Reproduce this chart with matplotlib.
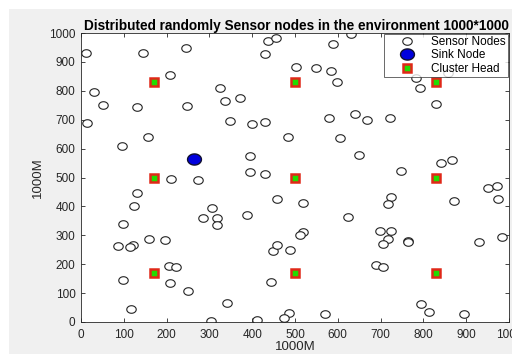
import matplotlib
matplotlib.use("Agg")
import matplotlib.pyplot as plt
from matplotlib.patches import Rectangle
from matplotlib.path import Path
import numpy as np

# ---- data ----
sensor_x = [11, 144, 245, 436, 456, 431, 208, 31, 51, 132, 247, 324, 336, 371, 13, 347, 400, 431,
            156, 95, 396, 396, 431, 484, 210, 273, 132, 123, 307, 286, 318, 318, 389, 457, 97, 86,
            121, 115, 158, 197, 206, 222, 97, 207, 250, 116, 341, 303, 411, 449, 459, 444, 632, 589,
            502, 549, 583, 597, 782, 793, 830, 857, 580, 640, 669, 723, 604, 649, 841, 866, 748, 950,
            973, 974, 519, 725, 718, 871, 623, 699, 725, 718, 706, 763, 763, 519, 512, 488, 931, 984,
            690, 706, 794, 814, 896, 570, 485, 474]
sensor_y = [932, 932, 949, 972, 984, 926, 856, 796, 751, 744, 747, 810, 765, 776, 690, 695, 685, 692,
            640, 609, 576, 519, 513, 640, 495, 492, 446, 402, 394, 360, 360, 334, 371, 425, 340, 264,
            266, 258, 287, 284, 195, 190, 147, 134, 106, 44, 67, 4, 8, 245, 266, 140, 998, 963,
            884, 878, 869, 832, 843, 809, 755, 862, 707, 718, 698, 705, 638, 578, 549, 559, 524, 464,
            469, 426, 412, 432, 409, 417, 362, 316, 316, 287, 269, 279, 277, 311, 301, 250, 277, 295,
            197, 191, 61, 36, 27, 27, 30, 14]
sink_x = [264]
sink_y = [565]
ch_x = [170, 170, 170, 500, 500, 500, 830, 830, 830]
ch_y = [170, 500, 830, 170, 500, 830, 170, 500, 830]
xticks = [0, 100, 200, 300, 400, 500, 600, 700, 800, 900, 1000]
yticks = [0, 100, 200, 300, 400, 500, 600, 700, 800, 900, 1000]

plt.rcParams['font.family'] = ['Liberation Sans', 'DejaVu Sans']

fig = plt.figure(figsize=(5.12, 3.54), dpi=100, facecolor='white')
fig.patches.append(Rectangle((9 / 512, 0), 1, (354 - 9) / 354, transform=fig.transFigure,
                             facecolor='#f0f0f0', edgecolor='none', zorder=-10))
ax = fig.add_axes([81 / 512, 32 / 354, 428 / 512, 289 / 354])
ax.set_facecolor('white')

# slightly wide ellipse marker (screenshot is horizontally stretched)
t = np.linspace(0, 2 * np.pi, 60)
ell = Path(np.column_stack([np.cos(t), 0.8 * np.sin(t)]), closed=True)

ax.plot(sensor_x, sensor_y, linestyle='none', marker=ell, markersize=6.8,
        markerfacecolor='white', markeredgecolor='#222222', markeredgewidth=0.8,
        label='Sensor Nodes')
ax.plot(sink_x, sink_y, linestyle='none', marker=ell, markersize=10,
        markerfacecolor='#0000dd', markeredgecolor='#101030', markeredgewidth=1.0,
        label='Sink Node')
ax.plot(ch_x, ch_y, linestyle='none', marker='s', markersize=6,
        markerfacecolor='#22dd00', markeredgecolor='#e02818', markeredgewidth=1.8,
        label='Cluster Head')

ax.set_xlim(0, 1000)
ax.set_ylim(0, 1000)
ax.set_xticks(xticks)
ax.set_yticks(yticks)
ax.set_xticklabels([str(v) for v in xticks])
ax.set_yticklabels([str(v) for v in yticks])
ax.tick_params(direction='in', top=True, right=True, length=3, width=0.6,
               labelsize=8.5, colors='#262626', labelcolor='#262626')
ax.tick_params(axis='x', pad=5)
ax.tick_params(axis='y', pad=4)
for s in ax.spines.values():
    s.set_linewidth(0.6)
    s.set_color('#262626')

ax.set_title('Distributed randomly Sensor nodes in the environment 1000*1000',
             fontsize=9.8, fontweight='bold', pad=2, loc='left', x=0.008)
ax.set_xlabel('1000M', fontsize=9.5, color='#262626', va='center')
ax.xaxis.set_label_coords(0.5, -0.0865)
ax.set_ylabel('1000M', fontsize=9.5, color='#262626')
ax.yaxis.set_label_coords(-0.087, 0.5)

leg = ax.legend(loc='upper right', fontsize=8.5, frameon=True, fancybox=False,
                borderaxespad=0.1, handletextpad=0.25, labelspacing=0.12,
                borderpad=0.15, handlelength=3.6)
leg.get_frame().set_edgecolor('#262626')
leg.get_frame().set_linewidth(0.6)

fig.savefig('out.png', dpi=100, facecolor=fig.get_facecolor())
